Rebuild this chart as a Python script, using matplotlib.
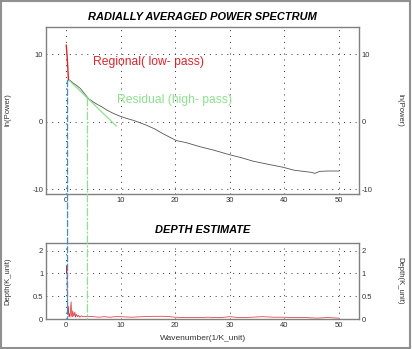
import numpy as np
import matplotlib
matplotlib.use("Agg")
import matplotlib.pyplot as plt
from matplotlib.patches import ConnectionPatch, Rectangle

plt.rcParams['font.family'] = ['Liberation Sans', 'DejaVu Sans']
plt.rcParams['axes.unicode_minus'] = False

# ---------------- data ----------------
k_regional = [0.02, 0.1, 0.18, 0.26, 0.34, 0.42]
p_regional = [11.3, 10.4, 9.6, 8.5, 7.3, 6.2]

k_spec = [0.42, 0.7, 1.3, 2.0, 2.6, 3.3, 4.1, 5.0, 5.6, 6.5, 7.5, 8.7, 9.9, 11.0,
          12.3, 13.5, 14.8, 16.3, 17.8, 19.0, 20.2, 22.0, 24.5, 27.0, 30.0, 32.0,
          34.3, 37.0, 39.8, 41.9, 43.5, 45.0, 45.6, 46.5, 48.0, 50.0]
p_spec = [6.2, 6.1, 5.7, 5.3, 4.9, 4.2, 3.4, 2.9, 2.6, 2.2, 1.7, 1.2, 0.8, 0.5,
          0.2, -0.15, -0.55, -1.1, -1.8, -2.3, -2.8, -3.1, -3.7, -4.2, -4.9, -5.3,
          -5.85, -6.3, -6.75, -7.2, -7.35, -7.5, -7.65, -7.35, -7.3, -7.3]

k_fit = [0.55, 9.2]
p_fit = [6.1, -0.65]

regional_cut_k = 0.25
regional_cut_p = 6.1
residual_cut_k = 3.9
residual_cut_p = 3.45

k_depth = [0.05, 0.1, 0.15, 0.2, 0.3, 0.4, 0.5, 0.6, 0.7, 0.8, 0.9, 1.0, 1.1, 1.2,
           1.4, 1.6, 1.7, 1.9, 2.1, 2.3, 2.5, 2.8, 3.1, 3.4, 3.8, 4.2, 5, 6, 7, 8,
           9, 10, 12, 14, 16, 18, 20, 22, 24, 26, 28, 30, 32, 34, 36, 38, 40, 42,
           44, 46, 48, 50]
depth = [1.0, 1.35, 1.25, 0.6, 0.1, 0.28, 0.05, 0.12, 0.04, 0.2, 0.38, 0.08, 0.05,
         0.18, 0.06, 0.15, 0.04, 0.1, 0.05, 0.08, 0.04, 0.07, 0.05, 0.06, 0.05,
         0.06, 0.05, 0.04, 0.05, 0.04, 0.05, 0.05, 0.04, 0.05, 0.06, 0.06, 0.04,
         0.03, 0.03, 0.04, 0.03, 0.05, 0.03, 0.04, 0.05, 0.04, 0.04, 0.03, 0.03,
         0.02, 0.03, 0.02]

x_ticks = [0, 10, 20, 30, 40, 50]
power_ticks = [-10, 0, 10]
depth_ticks = [0, 0.5, 1, 2]
depth_tick_labels = ["0", "0.5", "1", "2"]

# ---------------- style ----------------
RED = "#d8262b"
GREEN = "#8fe08f"
BLUE = "#3f8fcf"
CURVE = "#555555"
FRAME = "#808080"
GRID_LS = (0, (1, 5))

fig = plt.figure(figsize=(4.12, 3.49), dpi=100)
W, H = 412, 349

def pos(left, top, right, bottom):
    return [left / W, 1 - bottom / H, (right - left) / W, (bottom - top) / H]

ax1 = fig.add_axes(pos(46, 27, 359, 194))
ax2 = fig.add_axes(pos(46, 242.7, 359, 319))

for ax in (ax1, ax2):
    for s in ax.spines.values():
        s.set_color(FRAME)
        s.set_linewidth(1.0)
    ax.tick_params(length=0, labelsize=5.5, labelcolor="#333333", pad=2,
                   labelright=True, right=True)
    ax.set_xlim(-3.7, 53.7)
    ax.set_xticks(x_ticks)
    ax.grid(True, color="#333333", linestyle=GRID_LS, linewidth=0.7)

# top plot
ax1.set_ylim(-10.7, 14)
ax1.set_yticks(power_ticks)
ax1.plot(k_spec, p_spec, color=CURVE, lw=0.6, zorder=3)
ax1.plot(k_fit, p_fit, color=GREEN, lw=0.9, zorder=3)
ax1.plot(k_regional, p_regional, color=RED, lw=1.0, zorder=4)
ax1.set_title("RADIALLY AVERAGED POWER SPECTRUM", fontsize=7.9, fontweight="bold",
              fontstyle="italic", pad=5)
ax1.text(4.9, 8.8, "Regional( low- pass)", color=RED, fontsize=8.7, va="center", ha="left")
ax1.text(9.3, 3.2, "Residual (high- pass)", color=GREEN, fontsize=8.7, va="center", ha="left")

# bottom plot with piecewise scale (0..1 stretched)
def fwd(y):
    y = np.asarray(y, dtype=float)
    return np.where(y <= 1, 2 * y, y + 1)

def inv(t):
    t = np.asarray(t, dtype=float)
    return np.where(t <= 2, t / 2, t - 1)

ax2.set_yscale("function", functions=(fwd, inv))
ax2.set_ylim(0, 2.35)
ax2.set_yticks(depth_ticks)
ax2.set_yticklabels(depth_tick_labels)
ax2.plot(k_depth, depth, color=RED, lw=0.5, zorder=3)
ax2.set_title("DEPTH ESTIMATE", fontsize=7.9, fontweight="bold", fontstyle="italic", pad=7)

# cut-off lines spanning both panels
for kc, pc, col, ls in [(regional_cut_k, regional_cut_p, BLUE, (0, (5, 2))),
                        (residual_cut_k, residual_cut_p, GREEN, (0, (6, 2, 1, 2)))]:
    cp = ConnectionPatch(xyA=(kc, pc), coordsA=ax1.transData,
                         xyB=(kc, 0), coordsB=ax2.transData,
                         color=col, lw=0.9, linestyle=ls, zorder=5)
    fig.add_artist(cp)

# axis labels
lab_kw = dict(fontsize=5.5, color="#333333", va="center", ha="center")
fig.text(8 / W, 1 - 110 / H, "ln(Power)", rotation=90, **lab_kw)
fig.text(400 / W, 1 - 110 / H, "ln(Power)", rotation=270, **lab_kw)
fig.text(8 / W, 1 - 281 / H, "Depth(K_unit)", rotation=90, **lab_kw)
fig.text(400 / W, 1 - 281 / H, "Depth(K_unit)", rotation=270, **lab_kw)
fig.text(203 / W, 1 - 339 / H, "Wavenumber(1/K_unit)", fontsize=6, color="#333333",
         ha="center", va="center")

# figure border
fig.add_artist(Rectangle((0.002, 0.004), 0.993, 0.993, transform=fig.transFigure,
                         fill=False, edgecolor="#909090", lw=1.5))

fig.savefig("out.png", dpi=100)
